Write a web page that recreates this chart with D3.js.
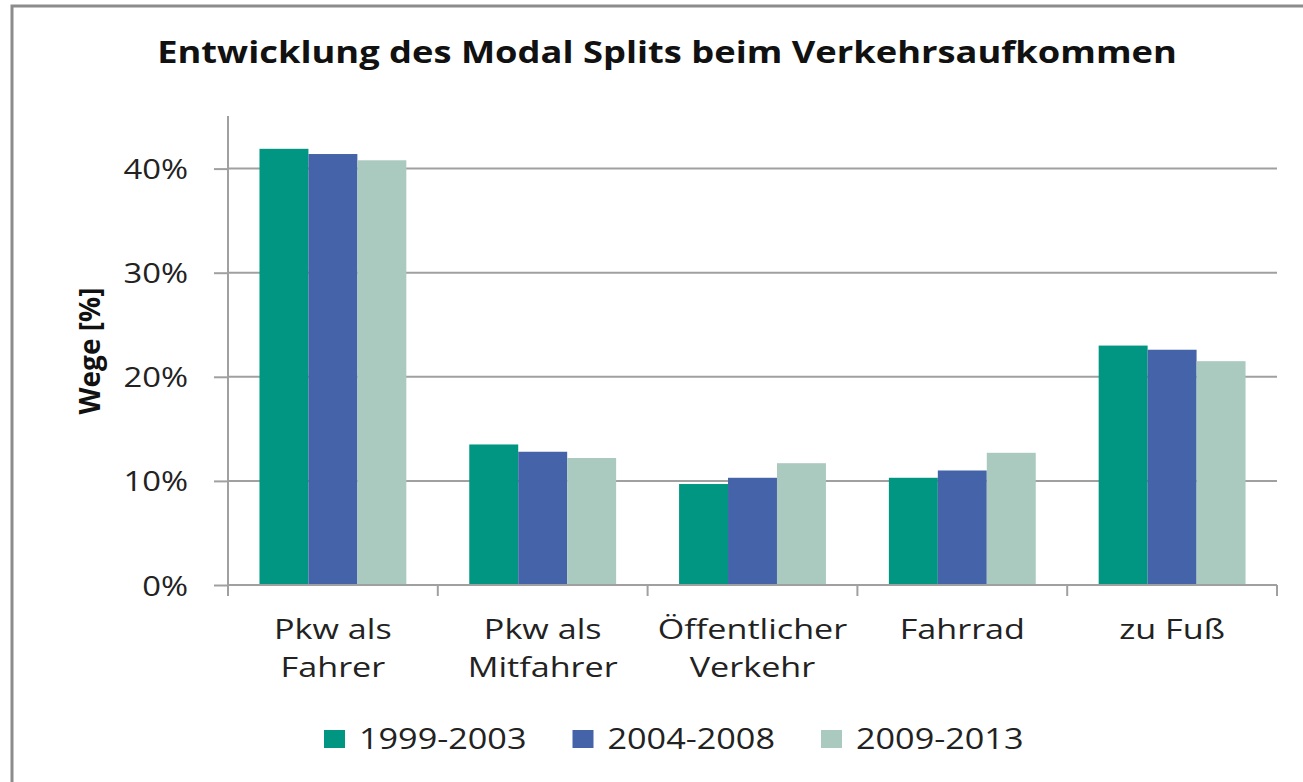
<!DOCTYPE html>
<html>
<head>
<meta charset="utf-8">
<script src="https://cdn.jsdelivr.net/npm/d3@7"></script>
<style>
  body { margin: 0; background: #fff; }
  svg { display: block; font-family: "Open Sans", sans-serif; }
</style>
</head>
<body>
<div class="chart"></div>
<script>
// Data
const categories = [["Pkw als", "Fahrer"], ["Pkw als", "Mitfahrer"], ["Öffentlicher", "Verkehr"], ["Fahrrad"], ["zu Fuß"]];
const seriesNames = ["1999-2003", "2004-2008", "2009-2013"];
const s1999 = [41.9, 13.5, 9.7, 10.3, 23.0];
const s2004 = [41.4, 12.8, 10.3, 11.0, 22.6];
const s2009 = [40.8, 12.2, 11.7, 12.7, 21.5];
const yTicks = [0, 10, 20, 30, 40];
const colors = ["#009682", "#4563a9", "#aac9bf"];

const W = 1303, H = 782;
const margin = { top: 116, right: 26, bottom: 197, left: 228 };
const width = W - margin.left - margin.right,
    height = H - margin.top - margin.bottom;

const data = categories.map((c, i) => ({ cat: c.join(" "), lines: c, vals: [s1999[i], s2004[i], s2009[i]] }));

const svg = d3.select(".chart").append("svg").attr("width", W).attr("height", H);

// frame
svg.append("rect").attr("x", 12).attr("y", 6).attr("width", W + 10).attr("height", H + 10)
    .attr("fill", "none").attr("stroke", "#8c8c8c").attr("stroke-width", 3);

// title (the original font is wider, so stretch a bit)
svg.append("text").attr("transform", "translate(667,63) scale(1.21,1)").attr("text-anchor", "middle")
    .style("font-size", "30px").style("font-weight", "bold")
    .attr("fill", "#111")
    .text("Entwicklung des Modal Splits beim Verkehrsaufkommen");

const g = svg.append("g").attr("transform", `translate(${margin.left},${margin.top})`);

const x0 = d3.scaleBand().domain(data.map(d => d.cat)).range([0, width]).paddingInner(0.3).paddingOuter(0.15);
const x1 = d3.scaleBand().domain(seriesNames).range([0, x0.bandwidth()]);
const y = d3.scaleLinear().domain([0, 45]).range([height, height - 45 * 10.41]);

// gridlines
g.selectAll(".grid").data(yTicks.slice(1)).enter().append("line")
    .attr("x1", 0).attr("x2", width).attr("y1", d => y(d)).attr("y2", d => y(d))
    .attr("stroke", "#a0a0a0").attr("stroke-width", 2);

// bars
const grp = g.selectAll(".grp").data(data).enter().append("g")
    .attr("transform", d => `translate(${x0(d.cat)},0)`);
grp.selectAll("rect").data(d => d.vals.map((v, i) => ({ v, s: seriesNames[i], i }))).enter().append("rect")
    .attr("x", d => x1(d.s)).attr("width", x1.bandwidth())
    .attr("y", d => y(d.v)).attr("height", d => y(0) - y(d.v))
    .attr("fill", d => colors[d.i]);

// y axis
const yAxis = g.append("g").call(d3.axisLeft(y).tickValues(yTicks).tickSize(14).tickFormat(d => d + "%"));
yAxis.attr("font-family", null).attr("font-size", null);
yAxis.select(".domain").remove();
g.append("line").attr("x1", 0).attr("x2", 0).attr("y1", 0).attr("y2", height + 11)
    .attr("stroke", "#a0a0a0").attr("stroke-width", 2);
yAxis.selectAll(".tick line").attr("stroke", "#a0a0a0").attr("stroke-width", 2);
yAxis.selectAll(".tick text").attr("x", 0).attr("dy", "0.36em")
    .attr("transform", "translate(-40,0) scale(1.17,1)")
    .style("font-size", "28px").attr("fill", "#222");

// x axis
g.append("line").attr("x1", 0).attr("x2", width).attr("y1", height).attr("y2", height)
    .attr("stroke", "#a0a0a0").attr("stroke-width", 2);
const bounds = data.map(d => x0(d.cat) - x0.step() * x0.paddingOuter()).concat([width]);
g.selectAll(".xtick").data(bounds).enter().append("line")
    .attr("x1", d => d).attr("x2", d => d).attr("y1", height).attr("y2", height + 11)
    .attr("stroke", "#a0a0a0").attr("stroke-width", 2);

const lab = g.selectAll(".xlab").data(data).enter().append("text")
    .attr("text-anchor", "middle").style("font-size", "28px")
    .attr("fill", "#222")
    .attr("transform", d => `translate(${x0(d.cat) + x0.bandwidth() / 2},${height + 54}) scale(1.22,1)`);
lab.selectAll("tspan").data(d => d.lines).enter().append("tspan")
    .attr("x", 0).attr("y", (d, i) => i * 38).text(d => d);

// y title
svg.append("text").attr("transform", "translate(100,351) rotate(-90)").attr("text-anchor", "middle")
    .style("font-size", "28px").style("font-weight", "bold").attr("fill", "#111").text("Wege [%]");

// legend
const leg = svg.selectAll(".leg").data(seriesNames).enter().append("g")
    .attr("transform", (d, i) => `translate(${324 + i * 248.5},730)`);
leg.append("rect").attr("width", 21).attr("height", 18).attr("fill", (d, i) => colors[i]);
leg.append("text").attr("transform", "translate(35,18.5) scale(1.18,1)")
    .style("font-size", "29px").attr("fill", "#222").text(d => d);
</script>
</body>
</html>
